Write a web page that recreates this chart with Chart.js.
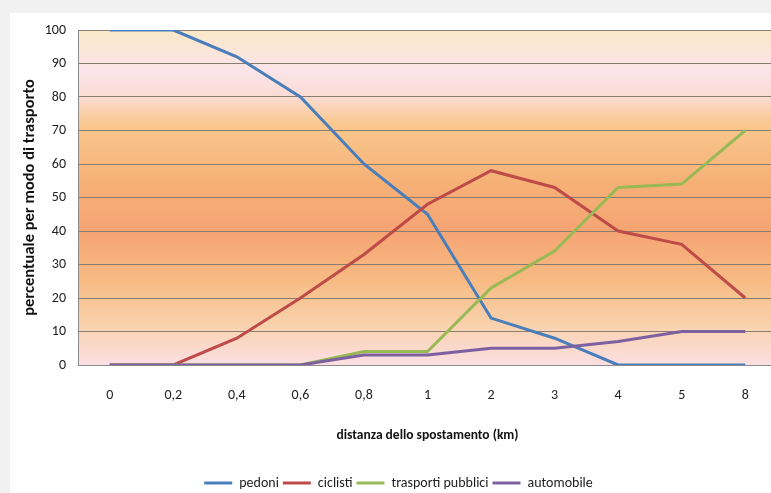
<!DOCTYPE html>
<html>
<head>
<meta charset="utf-8">
<script src="https://cdn.jsdelivr.net/npm/chart.js@4.4.1/dist/chart.umd.min.js"></script>
<style>
  html, body { margin: 0; padding: 0; width: 771px; height: 493px; overflow: hidden; background: #f1f1f1; }
  #card { position: absolute; left: 10px; top: 13px; width: 800px; height: 500px; background: #fff; }
  #wrap { position: absolute; left: 0; top: 0; width: 777px; height: 500px; }
</style>
</head>
<body>
<div id="card"></div>
<div id="wrap"><canvas id="myChart"></canvas></div>
<script>
let distanze = ["0", "0,2", "0,4", "0,6", "0,8", "1", "2", "3", "4", "5", "8"];
let pedoni = [100, 100, 92, 80, 60, 45, 14, 8, 0, 0, 0];
let ciclisti = [0, 0, 8, 20, 33, 48, 58, 53, 40, 36, 20];
let trasportiPubblici = [0, 0, 0, 0, 4, 4, 23, 34, 53, 54, 70];
let automobile = [0, 0, 0, 0, 3, 3, 5, 5, 7, 10, 10];

// background of the plot area, like the Excel gradient fill
let plotBackground = {
  id: "plotBackground",
  beforeDraw: function(chart) {
    let a = chart.chartArea;
    let c = chart.ctx;
    let g = c.createLinearGradient(0, a.top, 0, a.bottom);
    g.addColorStop(0, "#fbe7c8");
    g.addColorStop(0.12, "#fce4e9");
    g.addColorStop(0.2, "#fbdcd4");
    g.addColorStop(0.28, "#f9c88e");
    g.addColorStop(0.45, "#f6b177");
    g.addColorStop(0.6, "#f5a473");
    g.addColorStop(0.75, "#f7bb84");
    g.addColorStop(0.88, "#f9d2ad");
    g.addColorStop(1, "#fcdfe3");
    c.save();
    c.fillStyle = g;
    c.fillRect(a.left, a.top, a.right - a.left, a.bottom - a.top);
    c.restore();
  }
};

let font = "Calibri, Carlito, 'Open Sans', sans-serif";
let ctx = document.getElementById("myChart").getContext("2d");
let chart = new Chart(ctx, {
  type: "line",
  data: {
    labels: distanze,
    // order: later series drawn on top, as in the original
    datasets: [
      { label: "pedoni", data: pedoni, borderColor: "#4a7ebb", backgroundColor: "#4a7ebb", borderWidth: 3, order: 4 },
      { label: "ciclisti", data: ciclisti, borderColor: "#be4b48", backgroundColor: "#be4b48", borderWidth: 3, order: 3 },
      { label: "trasporti pubblici", data: trasportiPubblici, borderColor: "#98b954", backgroundColor: "#98b954", borderWidth: 3, order: 2 },
      { label: "automobile", data: automobile, borderColor: "#7d60a0", backgroundColor: "#7d60a0", borderWidth: 3, order: 1 }
    ]
  },
  options: {
    responsive: true,
    maintainAspectRatio: false,
    animation: false,
    elements: {
      line: { borderWidth: 3, tension: 0 },
      point: { radius: 0 }
    },
    layout: { padding: { left: 20, top: 30, right: 0, bottom: 0 } },
    scales: {
      x: {
        offset: true,
        grid: { display: false, drawTicks: false },
        border: { color: "#8a8a8a" },
        ticks: { color: "#222", padding: 22, font: { family: font, size: 14 } },
        title: {
          display: true,
          text: "distanza dello spostamento (km)",
          color: "#111",
          padding: { top: 2, bottom: 28 },
          font: { family: font, size: 13.5, weight: "bold" }
        }
      },
      y: {
        min: 0,
        max: 100,
        afterFit: function(scale) { scale.width = 58; },
        ticks: { stepSize: 10, color: "#222", padding: 12, font: { family: font, size: 14 } },
        grid: { color: "#8a7d70", lineWidth: 1, drawTicks: false },
        border: { color: "#8a8a8a" },
        title: {
          display: true,
          text: "percentuale per modo di trasporto",
          color: "#111",
          padding: { top: 0, bottom: 0 },
          font: { family: font, size: 16.5, weight: "bold" }
        }
      }
    },
    plugins: {
      legend: {
        position: "bottom",
        labels: {
          usePointStyle: true,
          pointStyle: "line",
          pointStyleWidth: 28,
          color: "#222",
          padding: 4,
          font: { family: font, size: 14 },
          sort: function(a, b) { return a.datasetIndex - b.datasetIndex; }
        }
      },
      tooltip: { enabled: false }
    }
  },
  plugins: [plotBackground]
});
</script>
</body>
</html>
